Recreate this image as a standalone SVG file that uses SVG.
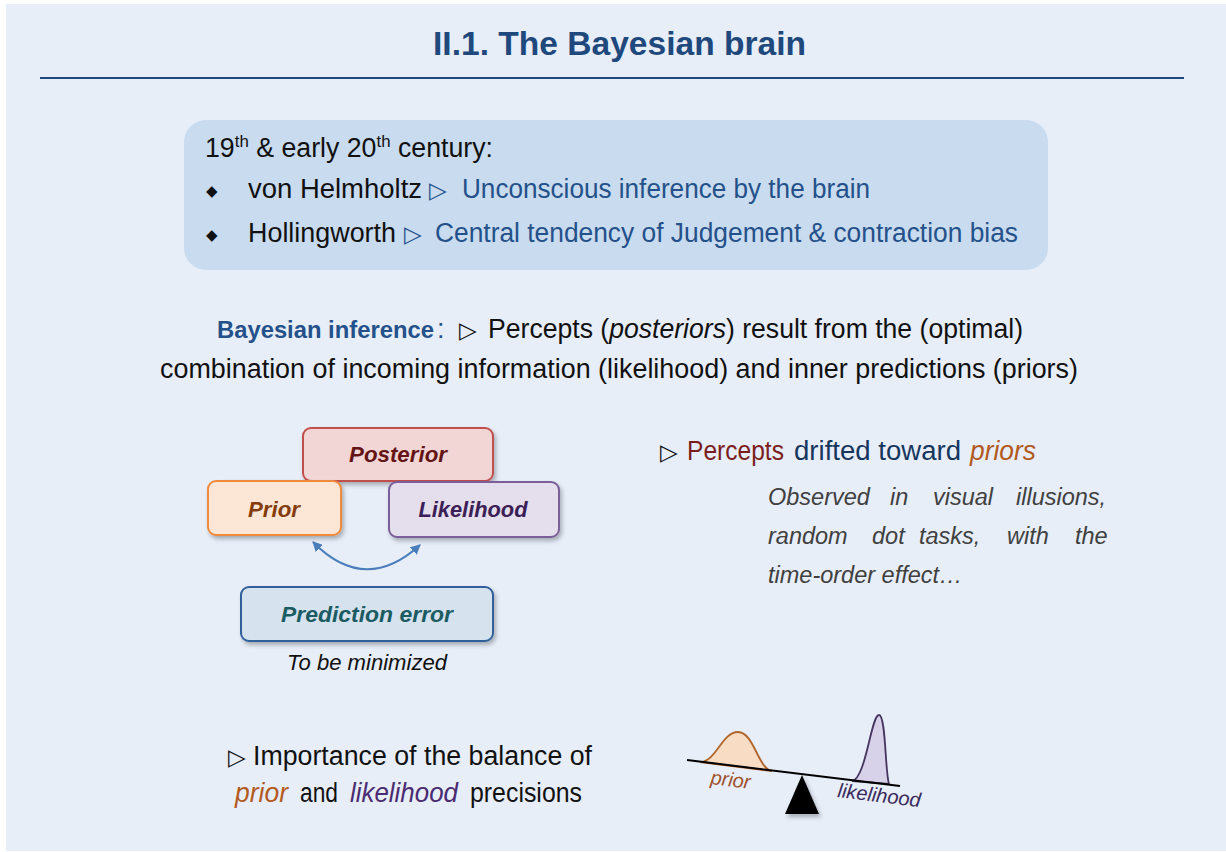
<svg xmlns="http://www.w3.org/2000/svg" width="1226" height="852" viewBox="0 0 1226 852">
<style>
text{font-family:"Liberation Sans",Arial,sans-serif;}
.sym{font-family:"DejaVu Sans",sans-serif;font-size:23px;fill:#111;}
.title{font-size:33px;font-weight:bold;fill:#1F497D;}
.body{font-size:27px;fill:#111;}
.blue{fill:#24518A;}
.red{fill:#7B1D1D;}
.navy{fill:#17365D;}
.brown{fill:#B35A1F;}
.purple{fill:#4B2C71;}
.node{font-size:22px;font-weight:bold;font-style:italic;text-anchor:middle;}
.gray{font-size:23.5px;font-style:italic;fill:#404040;}
.box{stroke-width:2;}
.dia{font-family:"DejaVu Sans",sans-serif;font-size:15px;fill:#111;}
.bi{font-size:23.8px;font-weight:bold;fill:#24518A;}
</style>
<defs>
<filter id="sh" x="-15%" y="-20%" width="140%" height="160%">
<feDropShadow dx="2" dy="3" stdDeviation="2.2" flood-color="#000" flood-opacity="0.28"/>
</filter>
<marker id="ah" viewBox="0 0 10 10" refX="9" refY="5" markerWidth="5" markerHeight="5" orient="auto-start-reverse" markerUnits="strokeWidth">
<path d="M0,0 L10,5 L0,10 z" fill="#4A7EBB"/>
</marker>
</defs>
<rect x="0" y="0" width="1226" height="852" fill="#FFFFFF"/>
<rect x="6" y="4" width="1220" height="847" fill="#E7EEF8"/>

<g id="title">
<text class="title" x="433" y="55" textLength="373" lengthAdjust="spacingAndGlyphs">II.1. The Bayesian brain</text>
<line x1="40" y1="78" x2="1184" y2="78" stroke="#1F497D" stroke-width="2"/>
</g>

<g id="history">
<rect x="184" y="120" width="864" height="150" rx="22" fill="#C9DBEF"/>
<text class="body" x="205" y="157" textLength="288" lengthAdjust="spacingAndGlyphs">19<tspan font-size="17" dy="-10">th</tspan><tspan dy="10"> &amp; early 20</tspan><tspan font-size="17" dy="-10">th</tspan><tspan dy="10"> century:</tspan></text>
<text class="dia" x="206" y="196">◆</text>
<text class="body" x="248" y="198" textLength="174" lengthAdjust="spacingAndGlyphs">von Helmholtz</text>
<text class="sym blue" x="429" y="198">▷</text>
<text class="body blue" x="462" y="198" textLength="408" lengthAdjust="spacingAndGlyphs">Unconscious inference by the brain</text>
<text class="dia" x="206" y="240">◆</text>
<text class="body" x="248" y="242" textLength="148" lengthAdjust="spacingAndGlyphs">Hollingworth</text>
<text class="sym blue" x="404" y="242">▷</text>
<text class="body blue" x="435" y="242" textLength="583" lengthAdjust="spacingAndGlyphs">Central tendency of Judgement &amp; contraction bias</text>
</g>

<g id="bayes-def">
<text class="bi" x="217" y="338">Bayesian inference</text>
<text class="body blue" x="437" y="338">:</text>
<text class="sym" x="459" y="338">▷</text>
<text class="body" x="488" y="338" textLength="535" lengthAdjust="spacingAndGlyphs">Percepts (<tspan font-style="italic">posteriors</tspan>) result from the (optimal)</text>
<text class="body" x="160" y="378" textLength="918" lengthAdjust="spacingAndGlyphs">combination of incoming information (likelihood) and inner predictions (priors)</text>
</g>

<g id="connectors">
<path d="M313,542 Q365,595 420,545" fill="none" stroke="#4A7EBB" stroke-width="2" marker-start="url(#ah)" marker-end="url(#ah)"/>
</g>

<g id="posterior">
<rect class="box" x="303" y="428" width="190" height="53" rx="8" fill="#F2D6D6" stroke="#C0504D" filter="url(#sh)"/>
<text class="node" x="398" y="462" fill="#641414" textLength="98" lengthAdjust="spacingAndGlyphs">Posterior</text>
</g>
<g id="prior">
<rect class="box" x="208" y="481" width="133" height="54" rx="8" fill="#FCE6D5" stroke="#F08A3C" filter="url(#sh)"/>
<text class="node" x="274" y="517" fill="#843C0C" textLength="52" lengthAdjust="spacingAndGlyphs">Prior</text>
</g>
<g id="likelihood">
<rect class="box" x="389" y="482" width="170" height="55" rx="8" fill="#E5DEEC" stroke="#7A5E9A" filter="url(#sh)"/>
<text class="node" x="473" y="517" fill="#3B2056" textLength="109" lengthAdjust="spacingAndGlyphs">Likelihood</text>
</g>
<g id="prediction-error">
<rect class="box" x="241" y="587" width="252" height="54" rx="8" fill="#D6E2EE" stroke="#31619A" filter="url(#sh)"/>
<text class="node" x="367" y="622" fill="#1B5C63" textLength="172" lengthAdjust="spacingAndGlyphs">Prediction error</text>
<text x="367" y="670" font-size="22" font-style="italic" fill="#111" text-anchor="middle" textLength="160" lengthAdjust="spacingAndGlyphs">To be minimized</text>
</g>

<g id="drift">
<text class="sym" x="660" y="460">▷</text>
<text class="body red" x="687" y="460" textLength="97" lengthAdjust="spacingAndGlyphs">Percepts</text>
<text class="body navy" x="794" y="460" textLength="167" lengthAdjust="spacingAndGlyphs">drifted toward</text>
<text class="body brown" x="970" y="460" font-style="italic" textLength="66" lengthAdjust="spacingAndGlyphs">priors</text>
<text class="gray" y="505"><tspan x="768">Observed</tspan><tspan x="890">in</tspan><tspan x="933">visual</tspan><tspan x="1016">illusions,</tspan></text>
<text class="gray" y="544"><tspan x="768">random</tspan><tspan x="872">dot</tspan><tspan x="919">tasks,</tspan><tspan x="1007">with</tspan><tspan x="1075">the</tspan></text>
<text class="gray" x="768" y="583">time-order effect…</text>
</g>

<g id="balance-text">
<text class="sym" x="228" y="765">▷</text>
<text class="body" x="253" y="765" textLength="339" lengthAdjust="spacingAndGlyphs">Importance of the balance of</text>
<text class="body brown" x="235" y="802" font-style="italic" textLength="53" lengthAdjust="spacingAndGlyphs">prior</text>
<text class="body" x="300" y="802" textLength="38" lengthAdjust="spacingAndGlyphs">and</text>
<text class="body purple" x="350" y="802" font-style="italic" textLength="108" lengthAdjust="spacingAndGlyphs">likelihood</text>
<text class="body" x="470" y="802" textLength="112" lengthAdjust="spacingAndGlyphs">precisions</text>
</g>

<g id="seesaw">
<path d="M700,762 C716,762 722,732 738,732 C754,732 758,769 772,771 Z" fill="#F8DCC4" stroke="#B0642A" stroke-width="1.8"/>
<path d="M852,781 C866,779 871,715 879,715 C886,715 885,772 889,784 Z" fill="#D8D1EA" stroke="#45355F" stroke-width="1.8"/>
<line x1="687" y1="760" x2="900" y2="786" stroke="#000" stroke-width="2"/>
<polygon points="802,775 785,814 819,814" fill="#000" filter="url(#sh)"/>
<text x="710" y="784" font-size="20" font-style="italic" fill="#A0522D" transform="rotate(7 710 784)">prior</text>
<text x="837" y="797" font-size="20" font-style="italic" fill="#3A2A5C" transform="rotate(7 837 797)">likelihood</text>
</g>
</svg>
